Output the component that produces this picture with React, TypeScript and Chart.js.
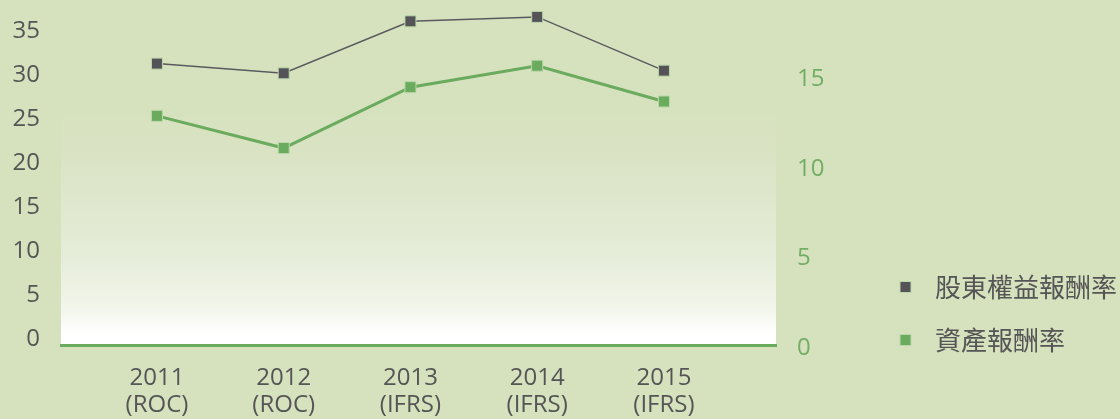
import React, { useEffect, useRef } from "react";
import { Chart, registerables } from "chart.js";

Chart.register(...registerables);

const years = ["2011", "2012", "2013", "2014", "2015"];
const standards = ["(ROC)", "(ROC)", "(IFRS)", "(IFRS)", "(IFRS)"];
const roe = [31.0, 29.9, 35.8, 36.3, 30.2];
const roa = [12.8, 11.0, 14.4, 15.6, 13.6];
const leftTicks = [0, 5, 10, 15, 20, 25, 30, 35];
const rightTicks = [0, 5, 10, 15];
const seriesNames = ["股東權益報酬率", "資產報酬率"];

const BG = "#d6e1be";
const GRAY = "#545458";
const GREEN = "#6aab5d";
const HALO = "#bcd8aa";
const TEXT = "#555555";

export default function App() {
  const ref = useRef<HTMLCanvasElement | null>(null);

  useEffect(() => {
    const canvas = ref.current;
    if (!canvas) return;

    const bgPlugin = {
      id: "bgPlugin",
      beforeDraw(chart: any) {
        const { ctx, chartArea } = chart;
        ctx.save();
        ctx.fillStyle = BG;
        ctx.fillRect(0, 0, chart.width, chart.height);
        const top = chartArea.top + 117;
        const bottom = chartArea.bottom;
        const g = ctx.createLinearGradient(0, top, 0, bottom);
        g.addColorStop(0, "#d7e2c0");
        g.addColorStop(0.14, "#d9e3c3");
        g.addColorStop(0.6, "#e5ecd8");
        g.addColorStop(0.85, "#f3f6ec");
        g.addColorStop(0.95, "#ffffff");
        g.addColorStop(1, "#ffffff");
        ctx.fillStyle = g;
        ctx.fillRect(chartArea.left, top, chartArea.right - chartArea.left, bottom - top);
        ctx.restore();
      },
    };

    const legendPlugin = {
      id: "legendPlugin",
      afterDraw(chart: any) {
        const { ctx } = chart;
        const colors = [GRAY, GREEN];
        const rows = [287, 340];
        ctx.save();
        seriesNames.forEach((name, i) => {
          const cy = rows[i];
          ctx.fillStyle = HALO;
          ctx.fillRect(899.5, cy - 6, 12, 12);
          ctx.fillStyle = colors[i];
          ctx.fillRect(900.5, cy - 5, 10, 10);
          ctx.fillStyle = TEXT;
          ctx.font = '26px "Noto Sans CJK TC", "Noto Sans CJK SC", sans-serif';
          ctx.textBaseline = "middle";
          ctx.textAlign = "left";
          ctx.fillText(name, 935, cy);
        });
        ctx.restore();
      },
    };

    const zeroPad = (scale: any) => {
      scale.paddingTop = 0;
      scale.paddingBottom = 0;
      scale.paddingLeft = 0;
      scale.paddingRight = 0;
    };

    const chart = new Chart(canvas, {
      type: "line",
      data: {
        datasets: [
          {
            label: seriesNames[0],
            data: roe.map((v, i) => ({ x: i, y: v })),
            yAxisID: "y",
            borderColor: "#5a5a5e",
            borderWidth: 1.5,
            pointStyle: "rect",
            pointRadius: 7.8,
            pointBackgroundColor: GRAY,
            pointBorderColor: HALO,
            pointBorderWidth: 1,
            tension: 0,
            clip: false,
          },
          {
            label: seriesNames[1],
            data: roa.map((v, i) => ({ x: i, y: v })),
            yAxisID: "y1",
            borderColor: GREEN,
            borderWidth: 3,
            pointStyle: "rect",
            pointRadius: 7.8,
            pointBackgroundColor: GREEN,
            pointBorderColor: HALO,
            pointBorderWidth: 1,
            tension: 0,
            clip: false,
          },
        ],
      },
      options: {
        animation: false,
        responsive: false,
        maintainAspectRatio: false,
        layout: { autoPadding: false, padding: { top: 0, left: 0, bottom: 0, right: 244 } },
        plugins: { legend: { display: false }, tooltip: { enabled: false } },
        scales: {
          x: {
            type: "linear",
            min: -0.757,
            max: 4.884,
            grid: { display: false, drawTicks: false },
            border: { display: true, color: GREEN, width: 3 },
            afterBuildTicks: (scale: any) => {
              scale.ticks = years.map((_, i) => ({ value: i }));
            },
            afterFit: (scale: any) => {
              scale.height = 74;
              zeroPad(scale);
            },
            ticks: {
              autoSkip: false,
              maxRotation: 0,
              padding: 19,
              color: TEXT,
              font: { family: '"Open Sans", sans-serif', size: 24, lineHeight: 1.15 },
              callback: (v: any) => [years[v], standards[v]],
            },
          },
          y: {
            type: "linear",
            position: "left",
            min: -0.94,
            max: 38.22,
            grid: { display: false, drawTicks: false },
            border: { display: false },
            afterBuildTicks: (scale: any) => {
              scale.ticks = leftTicks.map((v) => ({ value: v }));
            },
            afterFit: (scale: any) => {
              scale.width = 61;
              zeroPad(scale);
            },
            ticks: {
              padding: 21,
              labelOffset: 2.5,
              color: TEXT,
              font: { family: '"Open Sans", sans-serif', size: 24 },
              callback: (v: any) => String(v),
            },
          },
          y1: {
            type: "linear",
            position: "right",
            min: 0,
            max: 19.27,
            grid: { display: false, drawTicks: false },
            border: { display: false },
            afterBuildTicks: (scale: any) => {
              scale.ticks = rightTicks.map((v) => ({ value: v }));
            },
            afterFit: (scale: any) => {
              scale.width = 100;
              zeroPad(scale);
            },
            ticks: {
              padding: 21,
              labelOffset: 3,
              color: "#72ae63",
              font: { family: '"Open Sans", sans-serif', size: 24 },
              callback: (v: any) => String(v),
            },
          },
        },
      },
      plugins: [bgPlugin, legendPlugin],
    } as any);

    return () => chart.destroy();
  }, []);

  return (
    <div style={{ position: "absolute", left: 0, top: 0, width: 1120, height: 419, background: BG }}>
      <canvas ref={ref} width={1120} height={419} style={{ display: "block" }} />
    </div>
  );
}
